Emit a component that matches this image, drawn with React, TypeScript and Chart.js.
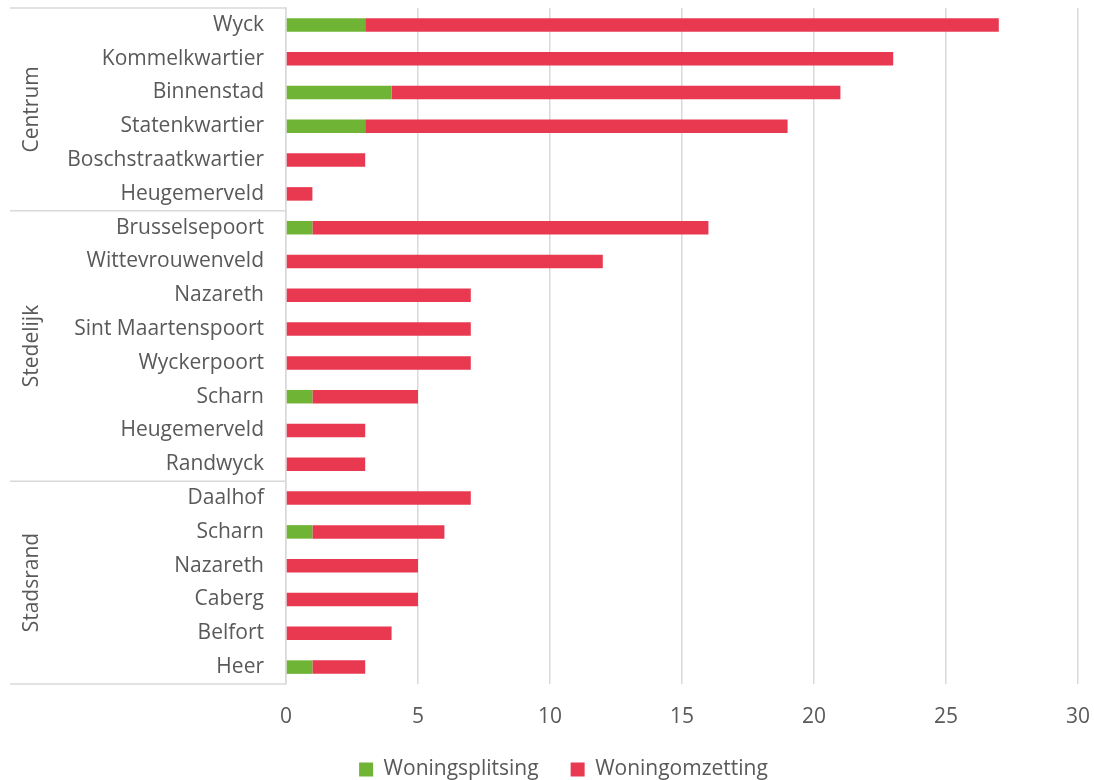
import React, { useEffect, useRef } from 'react';
import { Chart, registerables } from 'chart.js';

Chart.register(...registerables);

const categories = [
  'Wyck', 'Kommelkwartier', 'Binnenstad', 'Statenkwartier', 'Boschstraatkwartier', 'Heugemerveld',
  'Brusselsepoort', 'Wittevrouwenveld', 'Nazareth', 'Sint Maartenspoort', 'Wyckerpoort', 'Scharn', 'Heugemerveld', 'Randwyck',
  'Daalhof', 'Scharn', 'Nazareth', 'Caberg', 'Belfort', 'Heer',
];
const groupNames = ['Centrum', 'Stedelijk', 'Stadsrand'];
const groupSizes = [6, 8, 6];
const woningsplitsing = [3, 0, 4, 3, 0, 0, 1, 0, 0, 0, 0, 1, 0, 0, 0, 1, 0, 0, 0, 1];
const woningomzetting = [24, 23, 17, 16, 3, 1, 15, 12, 7, 7, 7, 4, 3, 3, 7, 5, 5, 5, 4, 2];
const xTicks = [0, 5, 10, 15, 20, 25, 30];

const FONT = "'Open Sans', sans-serif";
const TEXT = '#595959';
const LINE = '#d9d9d9';
const FS = 21;
const PAD_LEFT = 33;

const groupPlugin = {
  id: 'groupLabels',
  afterDraw(chart: any) {
    const ctx = chart.ctx;
    const y = chart.scales.y;
    const area = chart.chartArea;
    const bounds: number[] = [area.top];
    let idx = 0;
    groupSizes.forEach((n, gi) => {
      idx += n;
      if (gi === groupSizes.length - 1) bounds.push(area.bottom);
      else bounds.push((y.getPixelForValue(idx - 1) + y.getPixelForValue(idx)) / 2);
    });
    ctx.save();
    ctx.strokeStyle = LINE;
    ctx.lineWidth = 1.5;
    bounds.forEach((b) => {
      ctx.beginPath();
      ctx.moveTo(10, b);
      ctx.lineTo(area.left, b);
      ctx.stroke();
    });
    ctx.fillStyle = TEXT;
    ctx.font = `${FS}px ${FONT}`;
    ctx.textAlign = 'center';
    ctx.textBaseline = 'middle';
    groupNames.forEach((g, i) => {
      const mid = (bounds[i] + bounds[i + 1]) / 2;
      ctx.save();
      ctx.translate(32, mid);
      ctx.rotate(-Math.PI / 2);
      ctx.fillText(g, 0, 0);
      ctx.restore();
    });
    ctx.restore();
  },
};

export default function App() {
  const ref = useRef<HTMLCanvasElement | null>(null);
  useEffect(() => {
    document.body.style.margin = '0';
    if (!ref.current) return;
    const chart = new Chart(ref.current, {
      type: 'bar',
      data: {
        labels: categories,
        datasets: [
          {
            label: 'Woningsplitsing',
            data: woningsplitsing,
            backgroundColor: '#70b436',
            barPercentage: 0.4,
            categoryPercentage: 1,
          },
          {
            label: 'Woningomzetting',
            data: woningomzetting,
            backgroundColor: '#e83950',
            barPercentage: 0.4,
            categoryPercentage: 1,
          },
        ],
      },
      options: {
        indexAxis: 'y',
        responsive: false,
        animation: false,
        devicePixelRatio: 1,
        layout: { padding: { left: PAD_LEFT, right: 0, top: 8, bottom: 0 } },
        scales: {
          x: {
            stacked: true,
            min: 0,
            max: 30,
            afterBuildTicks: (scale: any) => {
              scale.ticks = xTicks.map((v) => ({ value: v }));
            },
            afterFit: (scale: any) => {
              scale.height = 43;
              scale.paddingLeft = 0;
              scale.paddingRight = 16;
            },
            grid: { color: LINE, lineWidth: 1.5, drawTicks: false },
            border: { display: false },
            ticks: { color: TEXT, font: { family: FONT, size: FS }, padding: 20 },
          },
          y: {
            stacked: true,
            afterFit: (scale: any) => {
              scale.width = 286 - PAD_LEFT;
              scale.paddingTop = 0;
              scale.paddingBottom = 0;
            },
            grid: { display: false, drawTicks: false },
            border: { display: true, color: LINE, width: 1.5 },
            ticks: { color: TEXT, font: { family: FONT, size: FS }, padding: 22, autoSkip: false },
          },
        },
        plugins: {
          legend: {
            position: 'bottom',
            maxHeight: 53,
            labels: {
              boxWidth: 14,
              boxHeight: 14,
              padding: 32,
              color: TEXT,
              font: { family: FONT, size: FS },
            },
          },
          tooltip: { enabled: false },
        },
      },
      plugins: [groupPlugin],
    } as any);
    return () => chart.destroy();
  }, []);
  return (
    <div style={{ width: 1094, height: 780 }}>
      <canvas ref={ref} width={1094} height={780} />
    </div>
  );
}
